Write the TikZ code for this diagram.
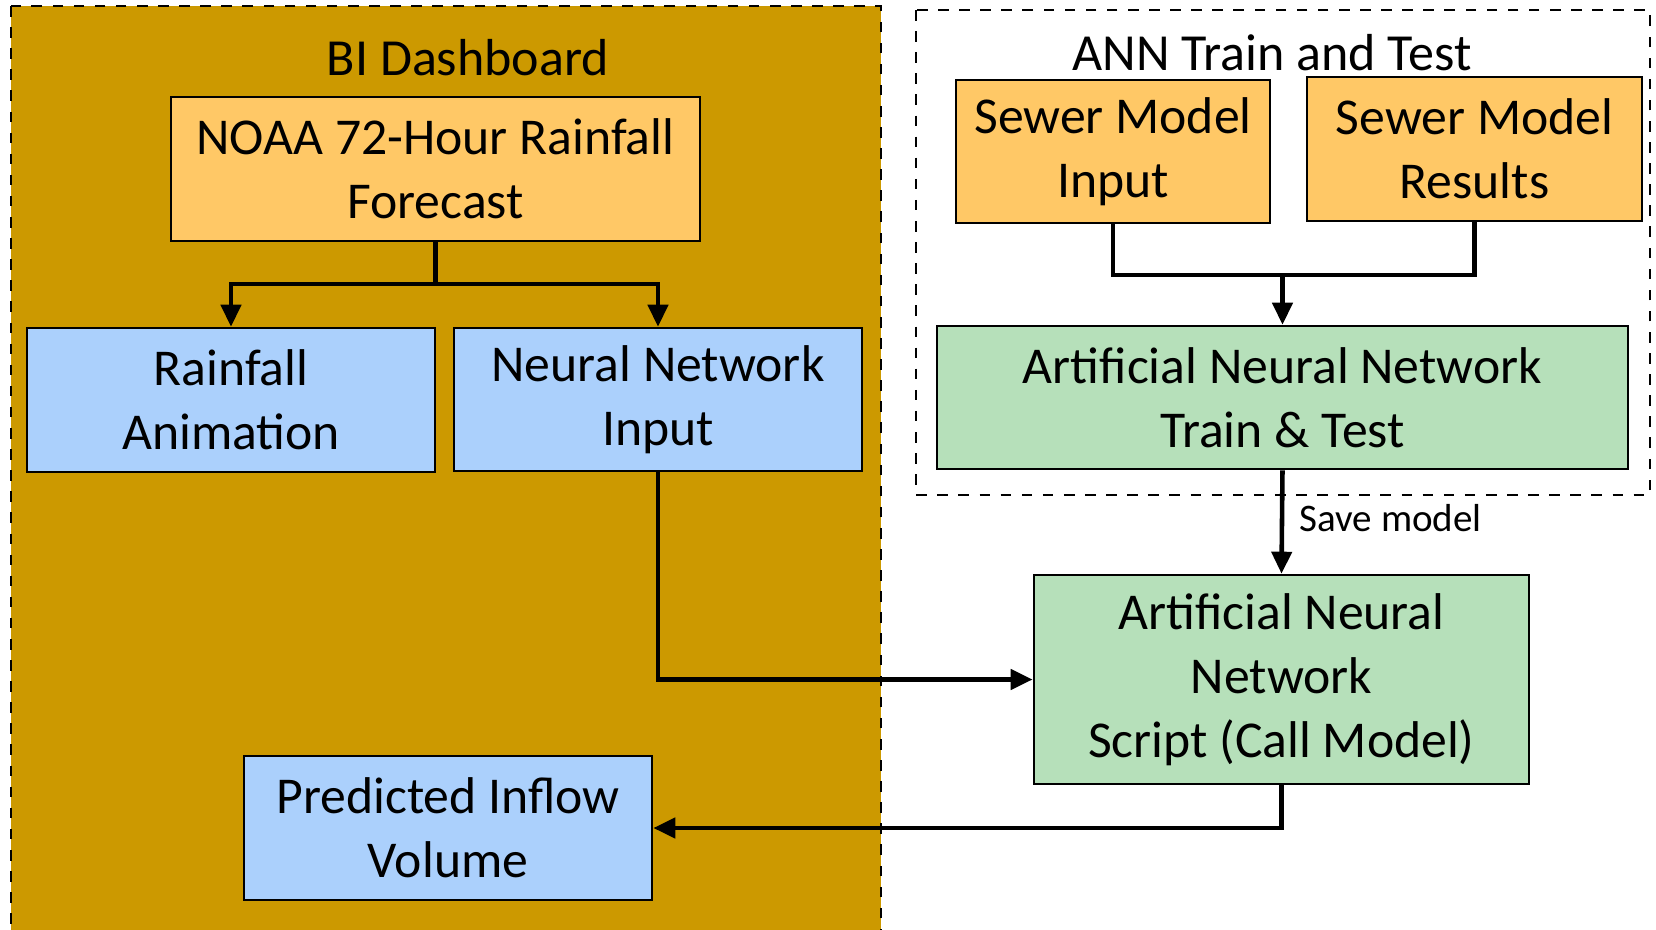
\documentclass[tikz,border=0pt]{standalone}
\usepackage{fontspec}
\setmainfont{Carlito}
\usetikzlibrary{arrows.meta}

\definecolor{dashgold}{RGB}{204,153,0}
\definecolor{boxorange}{RGB}{255,200,102}
\definecolor{boxblue}{RGB}{171,208,252}
\definecolor{boxgreen}{RGB}{182,224,186}

\begin{document}
\begin{tikzpicture}[x=0.01cm,y=-0.01cm,
    box/.style={draw=black,line width=0.7pt,align=center,inner sep=0pt,
      font=\fontsize{14.7}{18.2}\selectfont},
    orangebox/.style={box,fill=boxorange},
    bluebox/.style={box,fill=boxblue},
    greenbox/.style={box,fill=boxgreen},
    link/.style={line width=1.3pt,-{Triangle[length=0.22cm,width=0.2cm]}},
    title/.style={font=\fontsize{14.8}{18}\selectfont}]
      \clip (0,0) rectangle (1656,930);
      \fill[white] (0,0) rectangle (1656,930);

      % panels
      \draw[dashed,fill=dashgold,line width=0.6pt] (11,6) rectangle (881,945);
      \draw[dashed,line width=0.5pt] (916,10) rectangle (1650,495);
      \node[title] (bi) at (468,58) {BI Dashboard};
      \node[title] (anntitle) at (1272,53) {ANN Train and Test};

      % BI dashboard boxes
      \node[orangebox,minimum width=5.29cm,minimum height=1.44cm] (noaa) at (435.5,169) {NOAA 72-Hour Rainfall\\Forecast};
      \node[bluebox,minimum width=4.08cm,minimum height=1.44cm] (rain) at (231,400) {Rainfall\\Animation};
      \node[bluebox,minimum width=4.08cm,minimum height=1.43cm] (nninput) at (658,399.5) {Neural Network\\Input};
      \node[bluebox,minimum width=4.08cm,minimum height=1.44cm] (inflow) at (448,828) {Predicted Inflow\\Volume};

      % ANN boxes
      \node[orangebox,minimum width=3.14cm,minimum height=1.43cm] (sewerin) at (1113,151.5) {Sewer Model\\Input};
      \node[orangebox,minimum width=3.35cm,minimum height=1.44cm] (sewerres) at (1474.5,149) {Sewer Model\\Results};
      \node[greenbox,minimum width=6.91cm,minimum height=1.43cm] (anntrain) at (1282.5,397.5) {Artificial Neural Network\\Train \& Test};
      \node[greenbox,minimum width=4.95cm,minimum height=2.09cm] (script) at (1281.5,679.5) {Artificial Neural\\Network\\Script (Call Model)};

      % connectors
      \coordinate (split) at (435.5,284);
      \coordinate (merge) at (1282.5,275);
      \draw[link] (noaa.south) -- (split) -| (rain.north);
      \draw[link] (split) -| (nninput.north);
      \draw[line width=1.3pt] (sewerin.south) |- (merge);
      \draw[link] (sewerres.south) |- (merge) -- (anntrain.north);
      \draw[link] (anntrain.south) -- (script.north)
        node[pos=0.46,right=1pt,font=\fontsize{11.1}{13}\selectfont] (save) {Save model};
      \draw[link] (nninput.south) |- (script.west);
      \draw[link] (script.south) |- (inflow.east);
\end{tikzpicture}
\end{document}
